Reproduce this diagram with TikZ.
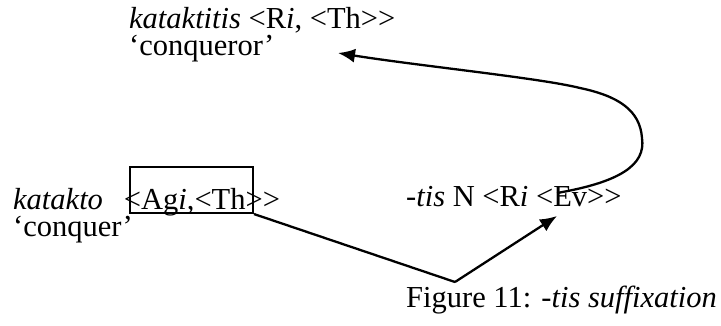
\documentclass[tikz,border=0pt]{standalone}
\usepackage{fontspec}
\setmainfont{Liberation Serif}
\usetikzlibrary{arrows.meta}
% two closing angle brackets, kept apart so they are not joined into a guillemet
\newcommand{\gtgt}{>\kern0pt>}
\begin{document}
\begin{tikzpicture}[x=1pt,y=-1pt,
  txt/.style={anchor=base west,inner sep=0pt,font=\fontsize{30.5}{27}\selectfont},
  link/.style={line width=2.3pt},
  head/.style={-{Latex[length=17pt,width=14pt]}},
  boxframe/.style={draw,line width=2.1pt,inner sep=0pt}]
\useasboundingbox (0,0) rectangle (721,325);

% lexical entries
\node[txt] (out1) at (129,28) {\textit{kataktitis} <R\textit{i}, <Th\gtgt};
\node[txt] (out2) at (129,55) {`conqueror'};
\node[txt] (base1) at (13,209) {\textit{katakto}\hspace{21pt}<Ag\textit{i},<Th\gtgt};
\node[txt] (base2) at (13,236) {`conquer'};
\node[txt] (suf) at (406,206) {-\textit{tis} N <R\textit{i} <Ev\gtgt};
\node[txt] (cap) at (406,307) {Figure 11: -\textit{tis suffixation}};

% frame around the argument structure of the base
\node[boxframe,minimum width=123pt,minimum height=46pt] (arg) at (191.5,190) {};

% points the connectors run through
\coordinate (join) at (455,282);
\coordinate (ev) at (557,216);
\coordinate (evtop) at (557,193);
\coordinate (loopr) at (642,138);
\coordinate (loopt) at (580,88);
\coordinate (outtip) at (338,53);

% base and suffix combine
\draw[link] (arg.south east) -- (join);
\draw[link,head] (join) -- (ev);

% result of the suffixation
\draw[link,head] (evtop) .. controls (620,182) and (646,165) .. (loopr)
  .. controls (640,110) and (618,96) .. (loopt)
  .. controls (540,78) and (420,66) .. (outtip);
\end{tikzpicture}
\end{document}
